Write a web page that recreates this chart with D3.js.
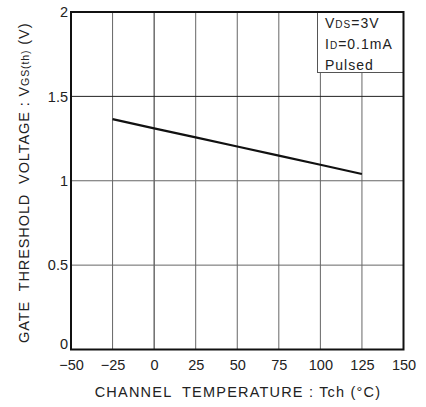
<!DOCTYPE html>
<html><head><meta charset="utf-8">
<script src="https://cdn.jsdelivr.net/npm/d3@7"></script>
<style>body{margin:0;background:#fff}svg{display:block;font-family:"Liberation Sans",Arial,sans-serif}</style>
</head><body>
<script>
const temps = [-25, 0, 25, 50, 75, 100, 125];
const vth = [1.365, 1.31, 1.257, 1.203, 1.149, 1.095, 1.04];
const xTicks = [-50, -25, 0, 25, 50, 75, 100, 125, 150];
const yTicks = [0, 0.5, 1, 1.5, 2];
const yTickLabels = ["0", "0.5", "1", "1.5", "2"];

const W = 426, H = 407;
const m = {l: 71, r: 22.5, t: 12, b: 57.5};
const svg = d3.select("body").append("svg").attr("width", W).attr("height", H);
const x = d3.scaleLinear().domain([-50, 150]).range([m.l, W - m.r]);
const y = d3.scaleLinear().domain([0, 2]).range([H - m.b, m.t]);
const fmtX = d => d < 0 ? "\u2212" + Math.abs(d) : String(d);

// grid
svg.append("g").selectAll("line").data(xTicks.slice(1, -1)).join("line")
  .attr("x1", d => x(d)).attr("x2", d => x(d)).attr("y1", y(0)).attr("y2", y(2))
  .attr("stroke", d => d === 0 ? "#222" : "#666").attr("stroke-width", 1);
svg.append("g").selectAll("line").data(yTicks.slice(1, -1)).join("line")
  .attr("x1", x(-50)).attr("x2", x(150)).attr("y1", d => y(d)).attr("y2", d => y(d))
  .attr("stroke", d => d === 1.5 ? "#222" : "#666").attr("stroke-width", 1);

// legend box
const lx = 317.5, ly = y(2), lbw = x(150) - 317.5, lbh = 60.5;
svg.append("rect").attr("x", lx).attr("y", ly).attr("width", lbw).attr("height", lbh)
  .attr("fill", "#fff").attr("stroke", "#555").attr("stroke-width", 1);
const lg = svg.append("g").attr("font-size", 14).attr("fill", "#222").attr("letter-spacing", 1);
const t1 = lg.append("text").attr("x", 325).attr("y", 28);
t1.append("tspan").text("V");
t1.append("tspan").attr("font-size", 10).text("DS");
t1.append("tspan").text("=3V");
const t2 = lg.append("text").attr("x", 325).attr("y", 49);
t2.append("tspan").text("I");
t2.append("tspan").attr("font-size", 10).text("D");
t2.append("tspan").text("=0.1mA");
lg.append("text").attr("x", 325).attr("y", 69.5).text("Pulsed");

// data line
svg.append("path").datum(temps.map((t, i) => [t, vth[i]]))
  .attr("fill", "none").attr("stroke", "#111").attr("stroke-width", 2.2)
  .attr("d", d3.line().x(d => x(d[0])).y(d => y(d[1])));

// frame
svg.append("rect").attr("x", x(-50)).attr("y", y(2)).attr("width", x(150) - x(-50)).attr("height", y(0) - y(2))
  .attr("fill", "none").attr("stroke", "#111").attr("stroke-width", 2);

// axes
const xAxis = svg.append("g").attr("transform", `translate(0,${y(0)})`)
  .call(d3.axisBottom(x).tickValues(xTicks).tickFormat(fmtX).tickSize(0).tickPadding(10));
xAxis.select(".domain").remove();
xAxis.selectAll("text").attr("font-size", 14.5).attr("fill", "#222").attr("font-family", "Liberation Sans, Arial, sans-serif");

const yAxis = svg.append("g").attr("transform", `translate(${x(-50)},0)`)
  .call(d3.axisLeft(y).tickValues(yTicks).tickFormat((d, i) => yTickLabels[i]).tickSize(0).tickPadding(3));
yAxis.select(".domain").remove();
yAxis.selectAll("text").attr("font-size", 14.5).attr("fill", "#222").attr("font-family", "Liberation Sans, Arial, sans-serif");
yAxis.selectAll(".tick").filter(d => d === 0).select("text").attr("dy", "-0.05em");

// titles
svg.append("text").attr("x", 238).attr("y", 397).attr("text-anchor", "middle")
  .attr("font-size", 14.5).attr("fill", "#222").attr("letter-spacing", 1.2).attr("xml:space", "preserve")
  .text("CHANNEL  TEMPERATURE : Tch (\u00B0C)");
const yt = svg.append("text").attr("transform", `translate(29,${(y(0) + y(2)) / 2 + 2}) rotate(-90)`)
  .attr("text-anchor", "middle").attr("font-size", 14.5).attr("fill", "#222").attr("letter-spacing", 0.9).attr("xml:space", "preserve");
yt.append("tspan").text("GATE  THRESHOLD  VOLTAGE : V");
yt.append("tspan").attr("font-size", 10.5).text("GS(th)");
yt.append("tspan").text(" (V)");
</script>
</body></html>
